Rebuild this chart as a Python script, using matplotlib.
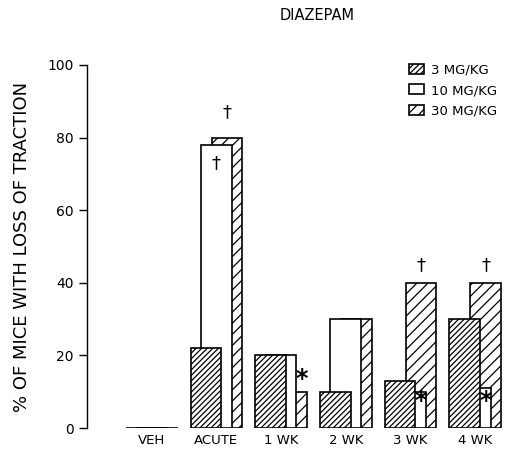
import numpy as np
import matplotlib.pyplot as plt

plt.rcParams['font.family'] = ['DejaVu Sans']
plt.rcParams['hatch.linewidth'] = 0.9

# donnees
categories = ['VEH', 'ACUTE', '1 WK', '2 WK', '3 WK', '4 WK']
dose_3 = [0, 22, 20, 10, 13, 30]
dose_10 = [0, 78, 20, 30, 10, 11]
dose_30 = [0, 80, 10, 30, 40, 40]
labels = ['3 MG/KG', '10 MG/KG', '30 MG/KG']

# marques de significativite (categorie, serie, symbole)
marks = [(1, 30, '\u2020'), (1, 10, '\u2020'), (2, 30, '*'),
         (4, 10, '*'), (4, 30, '\u2020'), (5, 10, '*'), (5, 30, '\u2020')]

fig = plt.figure(figsize=(5.06, 4.54), dpi=100)
ax = fig.add_axes([0.172, 0.057, 0.826, 0.8])

x = np.arange(len(categories))
w = 0.475
off = 0.162

# ordre: 30 derriere, 10 au milieu, 3 devant
b30 = ax.bar(x + off, dose_30, w, color='white', edgecolor='black',
             hatch='///', linewidth=1.2, zorder=1)
b10 = ax.bar(x, dose_10, w, color='white', edgecolor='black',
             linewidth=1.2, zorder=2)
b3 = ax.bar(x - off, dose_3, w, color='white', edgecolor='black',
            hatch='//////', linewidth=1.2, zorder=3)

for i, dose, sym in marks:
    if sym == '*':
        if dose == 30:
            xx, yy = i + off + 0.15, dose_30[i] + 3.5
        else:
            xx, yy = i + 0.16, 7.5
        ax.text(xx, yy, sym, ha='center', va='center', fontsize=17,
                fontweight='bold', zorder=5)
    else:
        if dose == 30:
            xx = i + off
            yy = dose_30[i] + (7 if i == 1 else 5)
        else:
            xx, yy = i, 73
        ax.text(xx, yy, sym, ha='center', va='center', fontsize=13, zorder=5)

ax.set_xlim(-1, 5.46)
ax.set_ylim(0, 100)
ax.set_yticks([0, 20, 40, 60, 80, 100])
ax.set_xticks(x)
ax.set_xticklabels(categories, fontsize=9.5)
ax.tick_params(axis='x', length=0, pad=4)
ax.tick_params(axis='y', direction='out', length=6, width=1, labelsize=10)
for s in ['top', 'right', 'bottom']:
    ax.spines[s].set_visible(False)
ax.spines['left'].set_linewidth(1)
ax.set_ylabel('% OF MICE WITH LOSS OF TRACTION', fontsize=13, labelpad=12)

fig.text(0.627, 0.965, 'DIAZEPAM', ha='center', va='center', fontsize=10.5)

ax.legend([b3, b10, b30], labels, loc='upper right', bbox_to_anchor=(1.0, 1.025),
          frameon=False, fontsize=9.5, handlelength=1.2, handleheight=0.8,
          labelspacing=0.55, handletextpad=0.5, borderaxespad=0.2)

plt.savefig('out.png', dpi=100)
plt.close()
